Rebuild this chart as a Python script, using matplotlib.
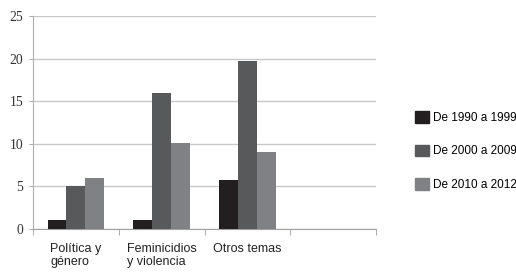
import numpy as np
import matplotlib
matplotlib.use("Agg")
import matplotlib.pyplot as plt
from matplotlib.patches import Patch

categories = ["Política y\ngénero", "Feminicidios\ny violencia", "Otros temas", ""]
series_names = ["De 1990 a 1999", "De 2000 a 2009", "De 2010 a 2012"]
v_1990 = [1, 1, 5.8, 0]
v_2000 = [5, 16, 19.7, 0]
v_2010 = [6, 10.1, 9, 0]
yticks = [0, 5, 10, 15, 20, 25]

colors = ["#231f20", "#58595b", "#808184"]
sans = ["Liberation Sans", "DejaVu Sans"]

fig = plt.figure(figsize=(5.16, 2.75), dpi=100)
ax = fig.add_axes([33/516, 1-229/275, (376-33)/516, (229-16)/275])

x = np.arange(len(categories))
w = 0.22
for i, (vals, c) in enumerate(zip([v_1990, v_2000, v_2010], colors)):
    ax.bar(x + (i-1)*w, vals, width=w, color=c, zorder=3)

ax.set_xlim(-0.5, len(categories)-0.5)
ax.set_ylim(0, 25)
ax.set_yticks(yticks)
ax.set_yticklabels([str(t) for t in yticks], family="Liberation Serif", fontsize=9.8, color="#333333")
ax.tick_params(axis="y", length=3, color="#b0b0b0", pad=4)
ax.grid(axis="y", color="#c8c8c8", lw=1, zorder=0)

ax.set_xticks(x)
ax.set_xticklabels(categories, family=sans, fontsize=9, color="#222222",
                   multialignment="left", linespacing=1.1)
ax.set_xticks(np.arange(len(categories)+1) - 0.5, minor=True)
ax.tick_params(axis="x", which="major", length=0, pad=10)
ax.tick_params(axis="x", which="minor", length=4.5, color="#a0a0a0")

for s in ["top", "right"]:
    ax.spines[s].set_visible(False)
ax.spines["left"].set_color("#b0b0b0")
ax.spines["bottom"].set_color("#a0a0a0")

handles = [Patch(color=c) for c in colors]
fig.legend(handles, series_names, loc="center left", bbox_to_anchor=(415/516, 1-151/275),
           frameon=False, prop={"family": sans, "size": 8.5}, handlelength=1.15,
           handleheight=1.15, handletextpad=0.35, labelspacing=1.75, borderpad=0,
           borderaxespad=0)

fig.savefig("out.png", dpi=100)
